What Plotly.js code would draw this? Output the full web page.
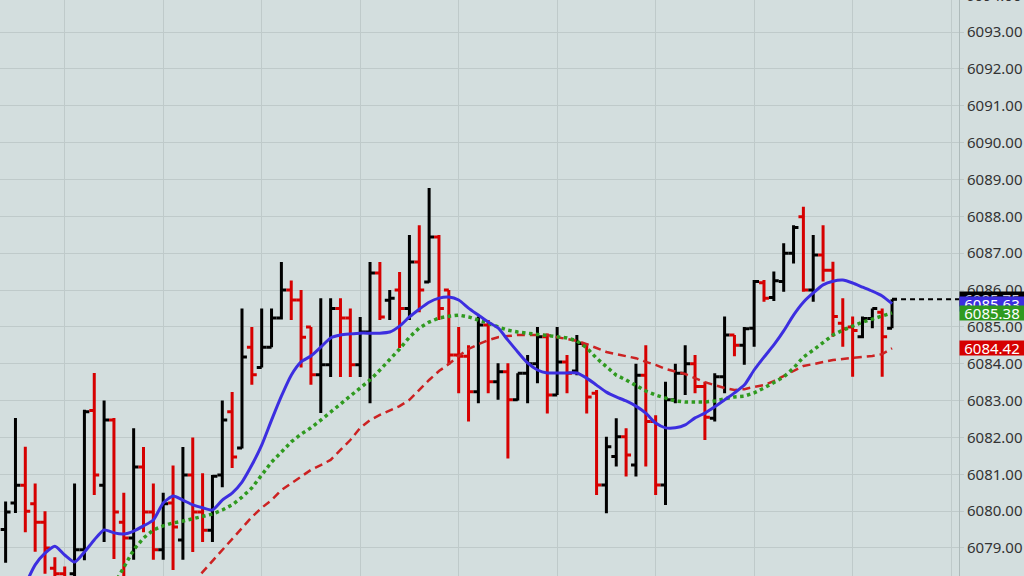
<!DOCTYPE html>
<html>
<head>
<meta charset="utf-8">
<script src="https://cdn.plot.ly/plotly-3.0.1.min.js"></script>
<style>
html,body{margin:0;padding:0;background:#d3dede;}
#chart{width:1024px;height:576px;}
</style>
</head>
<body>
<div id="chart"></div>
<script>
// OHLC values per bar (bar index 0..90)
const openP = [
6079.5,6080.22,6080.7,6080.2,6079.7,6078.45,6078.3,6078.3,6078.95,6082.73,
6080.7,6082.47,6079.7,6079.27,6081.2,6079.98,6078.95,6080.22,6079.22,6080.98,
6079.98,6079.48,6080.98,6082.7,6081.71,6084.45,6083.9,6084.45,6085.24,6086.0,
6085.73,6085.0,6083.7,6083.97,6085.5,6085.24,6083.97,6084.86,6086.46,6085.72,
6086.0,6085.5,6086.76,6086.22,6087.44,6086.0,6084.24,6084.2,6083.24,6085.05,
6083.51,6083.78,6083.02,6083.74,6084.0,6084.73,6083.15,6084.05,6083.8,6084.5,
6083.2,6080.71,6081.48,6082.02,6081.25,6083.69,6082.43,6080.71,6083.02,6083.74,
6084.0,6083.38,6082.52,6083.65,6084.78,6084.5,6084.96,6086.2,6085.8,6086.23,
6087.0,6087.99,6086.0,6086.95,6086.54,6085.1,6085.0,6084.73,6085.23,6085.4,
6084.96];
const highP = [
6080.26,6082.53,6081.75,6080.75,6080.0,6078.75,6078.5,6080.75,6082.75,6083.75,
6083.0,6082.53,6080.5,6082.25,6081.74,6080.75,6080.5,6081.24,6081.74,6082.0,
6081.03,6080.98,6083.0,6083.23,6085.5,6085.0,6085.5,6085.5,6086.76,6086.26,
6086.0,6085.0,6085.78,6085.78,6085.78,6085.5,6085.27,6086.76,6086.76,6086.0,
6086.49,6087.49,6087.76,6088.77,6087.49,6086.0,6085.0,6084.5,6085.28,6085.19,
6084.01,6084.01,6083.74,6084.24,6085.0,6084.82,6085.0,6084.24,6084.78,6084.55,
6083.29,6082.02,6082.52,6082.25,6084.0,6084.5,6082.6,6083.51,6084.0,6084.5,
6084.24,6083.51,6083.74,6085.28,6084.78,6085.0,6086.27,6086.27,6086.5,6087.27,
6087.76,6088.26,6087.49,6087.76,6086.77,6085.78,6085.28,6085.28,6085.5,6085.5,
6085.75];
const lowP = [
6078.6,6079.95,6079.43,6078.9,6078.3,6078.0,6077.8,6078.0,6078.67,6080.44,
6079.16,6078.7,6078.2,6078.68,6079.43,6078.68,6078.68,6078.4,6078.68,6078.89,
6079.16,6079.16,6080.65,6081.17,6081.7,6083.43,6083.9,6084.45,6085.2,6085.19,
6083.9,6083.43,6082.66,6083.64,6083.64,6083.64,6083.64,6082.93,6085.19,6085.19,
6084.43,6085.19,6085.4,6086.2,6085.19,6083.97,6083.2,6082.43,6082.93,6083.2,
6083.02,6081.43,6083.0,6082.93,6083.47,6082.65,6083.15,6083.2,6083.69,6082.65,
6080.44,6079.94,6081.21,6080.94,6080.94,6081.21,6080.44,6080.17,6082.93,6083.15,
6083.2,6081.93,6082.43,6083.2,6084.2,6083.97,6084.46,6085.68,6085.7,6085.95,
6086.72,6085.95,6085.68,6086.23,6084.73,6084.46,6083.65,6084.69,6084.96,6083.65,
6084.96];
const closeP = [
6079.98,6080.7,6080.0,6079.7,6079.0,6078.3,6078.0,6078.95,6082.7,6080.98,
6082.47,6079.98,6079.27,6081.2,6079.98,6078.95,6080.2,6079.57,6080.98,6079.98,
6079.48,6080.95,6082.47,6081.47,6084.18,6083.7,6084.45,6085.24,6086.0,6085.73,
6084.72,6083.7,6083.97,6085.5,6085.24,6083.97,6084.86,6086.46,6085.27,6085.78,
6085.5,6086.76,6086.0,6087.44,6085.5,6084.24,6084.2,6083.24,6085.05,6083.51,
6083.78,6083.02,6083.74,6084.0,6084.73,6083.15,6084.05,6083.74,6084.55,6083.1,
6080.71,6081.75,6082.02,6081.52,6083.69,6082.43,6080.71,6083.02,6083.74,6084.0,
6083.38,6082.55,6083.65,6084.78,6084.5,6084.95,6086.23,6085.78,6086.25,6087.0,
6087.7,6086.0,6086.95,6086.54,6085.28,6084.95,6084.9,6085.23,6085.5,6084.73,
6085.75];

// Moving-average lines
const maBlue = [
null,null,6078.0,6078.54,6078.86,6079.05,6078.81,6078.62,6078.89,6079.22,
6079.49,6079.41,6079.38,6079.46,6079.60,6079.76,6080.22,6080.41,6080.30,6080.17,
6080.09,6080.03,6080.30,6080.49,6080.79,6081.25,6081.79,6082.47,6083.12,6083.69,
6084.05,6084.21,6084.45,6084.70,6084.78,6084.81,6084.83,6084.83,6084.83,6084.86,
6085.02,6085.27,6085.48,6085.67,6085.78,6085.81,6085.73,6085.51,6085.32,6085.13,
6084.97,6084.64,6084.32,6084.02,6083.83,6083.75,6083.75,6083.75,6083.75,6083.61,
6083.42,6083.23,6083.10,6082.99,6082.85,6082.66,6082.39,6082.26,6082.26,6082.34,
6082.53,6082.66,6082.83,6083.02,6083.21,6083.42,6083.83,6084.18,6084.51,6084.89,
6085.32,6085.67,6085.92,6086.14,6086.24,6086.27,6086.19,6086.08,6085.97,6085.84,
6085.63];
const maGreen = [
null,null,null,null,null,null,null,null,null,null,
null,6078.0,6078.46,6078.95,6079.27,6079.49,6079.60,6079.68,6079.73,6079.79,
6079.84,6079.92,6080.03,6080.17,6080.38,6080.63,6080.98,6081.33,6081.60,6081.88,
6082.09,6082.26,6082.47,6082.69,6082.88,6083.10,6083.34,6083.56,6083.83,6084.10,
6084.40,6084.72,6084.97,6085.13,6085.24,6085.29,6085.32,6085.27,6085.19,6085.10,
6085.00,6084.91,6084.86,6084.83,6084.81,6084.78,6084.75,6084.70,6084.62,6084.43,
6084.15,6083.91,6083.69,6083.56,6083.40,6083.26,6083.15,6083.07,6082.99,6082.96,
6082.96,6082.96,6082.99,6083.04,6083.10,6083.12,6083.21,6083.34,6083.48,6083.64,
6083.88,6084.18,6084.37,6084.59,6084.78,6084.91,6085.02,6085.13,6085.21,6085.29,
6085.38];
const maRed = [
null,null,null,null,null,null,null,null,null,null,
null,null,null,null,null,null,null,null,null,6078.05,
6078.35,6078.65,6078.95,6079.22,6079.54,6079.84,6080.09,6080.30,6080.57,6080.76,
6080.93,6081.12,6081.25,6081.39,6081.66,6081.93,6082.26,6082.47,6082.61,6082.74,
6082.85,6083.02,6083.29,6083.56,6083.80,6083.99,6084.21,6084.40,6084.53,6084.64,
6084.72,6084.75,6084.78,6084.78,6084.78,6084.78,6084.72,6084.67,6084.62,6084.53,
6084.43,6084.32,6084.26,6084.21,6084.15,6084.05,6083.97,6083.86,6083.80,6083.72,
6083.61,6083.50,6083.42,6083.34,6083.29,6083.31,6083.37,6083.42,6083.53,6083.67,
6083.80,6083.94,6083.99,6084.05,6084.10,6084.13,6084.15,6084.18,6084.21,6084.26,
6084.42];

// Axis range and the partly visible top tick label
const yRange = [6078.24, 6093.87];
const topTickValue = 6094;

const xIdx = closeP.map((_, i) => i);
const n = closeP.length;
const lastClose = closeP[n - 1];

const COL_BG = '#d3dede';
const COL_GRID = '#bfcaca';
const COL_UP = '#000000';
const COL_DOWN = '#d60000';
const COL_BLUE = '#3c2ee0';
const COL_GREEN = '#2f9a1f';
const COL_RED = '#cc2222';
const TICK_FONT = {family: 'Noto Sans', size: 15, color: '#333333'};

const traces = [
  {
    type: 'scatter', mode: 'lines', x: xIdx, y: maRed,
    line: {color: COL_RED, width: 2.5, dash: '8px,5px'}, hoverinfo: 'skip'
  },
  {
    type: 'scatter', mode: 'lines', x: xIdx, y: maGreen,
    line: {color: COL_GREEN, width: 3.5, dash: 'dot'}, hoverinfo: 'skip'
  },
  {
    type: 'ohlc', x: xIdx, open: openP, high: highP, low: lowP, close: closeP,
    tickwidth: 0.5,
    increasing: {line: {color: COL_UP, width: 3}},
    decreasing: {line: {color: COL_DOWN, width: 3}},
    hoverinfo: 'skip'
  },
  {
    type: 'scatter', mode: 'lines', x: xIdx, y: maBlue,
    line: {color: COL_BLUE, width: 3, shape: 'spline', smoothing: 0.6}, hoverinfo: 'skip'
  },
  {
    type: 'scatter', mode: 'lines', x: [n - 1, n + 8], y: [lastClose, lastClose],
    line: {color: '#000000', width: 2, dash: '5px,4px'}, hoverinfo: 'skip'
  }
];

const labels = [
  {v: lastClose, bg: '#000000', fc: '#d0d0d0'},
  {v: maBlue[n - 1], bg: '#3c2ee0', fc: '#ffffff'},
  {v: maGreen[n - 1], bg: '#2f9a1f', fc: '#ffffff'},
  {v: maRed[n - 1], bg: '#d60000', fc: '#ffffff'}
];

const annotations = labels.map(l => ({
  xref: 'paper', yref: 'y', x: 1, y: l.v, xanchor: 'left', yanchor: 'middle',
  text: l.v.toFixed(2), showarrow: false, bgcolor: l.bg,
  font: {family: 'Noto Sans', size: 15, color: l.fc},
  borderpad: 0, width: 64, height: 14, align: 'center'
}));

// partly cut-off tick label at the very top
annotations.unshift({
  xref: 'paper', yref: 'paper', x: 1, xshift: 5,
  y: (topTickValue - yRange[0]) / (yRange[1] - yRange[0]),
  xanchor: 'left', yanchor: 'middle', showarrow: false,
  text: topTickValue.toFixed(2), font: TICK_FONT
});

const layout = {
  width: 1024, height: 576,
  margin: {l: 0, r: 65, t: 0, b: 0, pad: 0},
  paper_bgcolor: COL_BG, plot_bgcolor: COL_BG,
  showlegend: false,
  xaxis: {
    range: [-0.57, 96.8], showticklabels: false, tick0: 6, dtick: 10,
    showgrid: true, gridcolor: COL_GRID, gridwidth: 1, zeroline: false,
    rangeslider: {visible: false}, fixedrange: true
  },
  yaxis: {
    side: 'right', range: yRange, dtick: 1, tick0: 6079,
    tickformat: '.2f', showgrid: true, gridcolor: COL_GRID, gridwidth: 1,
    zeroline: false, showline: true, linecolor: '#aebaba', linewidth: 1,
    ticks: 'outside', ticklen: 4, tickcolor: COL_GRID,
    tickfont: TICK_FONT,
    fixedrange: true
  },
  annotations: annotations
};

Plotly.newPlot('chart', traces, layout, {displayModeBar: false, staticPlot: true});
</script>
</body>
</html>
